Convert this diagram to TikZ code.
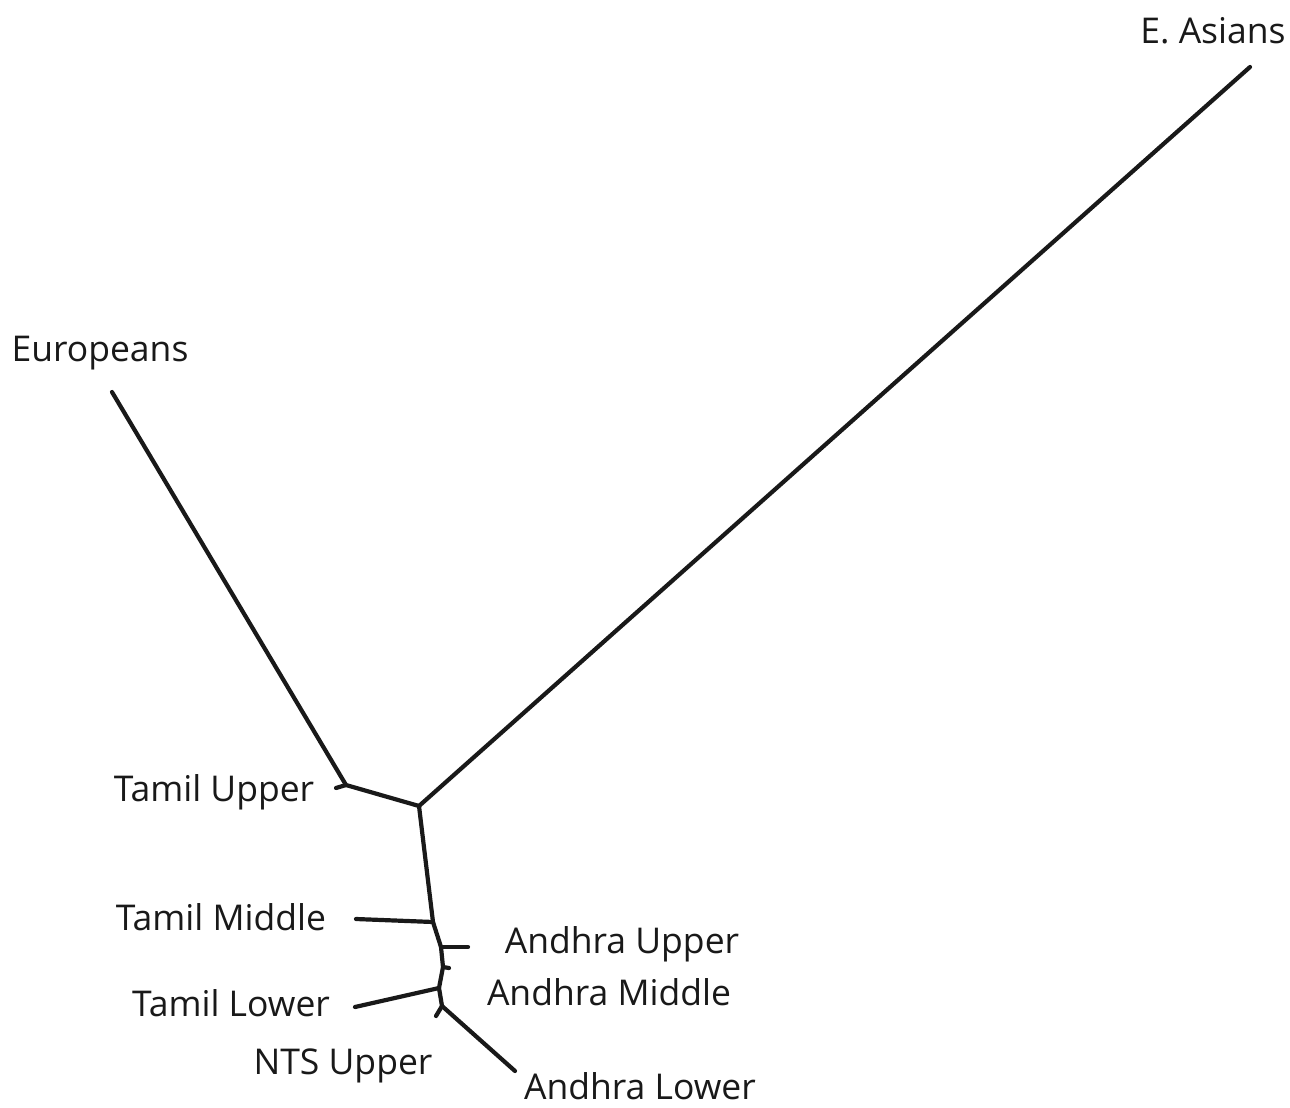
\documentclass[tikz,border=0pt]{standalone}
\usepackage{fontspec}
\setmainfont{Open Sans}
\begin{document}
\begin{tikzpicture}[x=1pt,y=-1pt,
  branch/.style={line width=4.2pt,line cap=round,line join=round,black!90},
  lab/.style={font=\fontsize{35.5}{40}\selectfont,text=black!90,inner sep=0pt}]
\useasboundingbox (0,0) rectangle (1290,1108);
% internal nodes
\coordinate (c) at (419,806);
\coordinate (tu) at (346,785);
\coordinate (tm) at (433,922);
\coordinate (au) at (441,947);
\coordinate (am) at (443,967);
\coordinate (tl) at (439,988);
\coordinate (nt) at (442,1006);
% leaves
\coordinate (eaL) at (1250,67);
\coordinate (euL) at (112,392);
\coordinate (tuL) at (336,788);
\coordinate (tmL) at (356,919);
\coordinate (auL) at (468,947);
\coordinate (amL) at (449,968);
\coordinate (tlL) at (355,1007);
\coordinate (ntL) at (436,1016);
\coordinate (alL) at (515,1071);
% labels
\node[lab] (ea) at (1213,31) {E. Asians};
\node[lab] (eu) at (100,353) {Europeans};
\node[lab] (tut) at (214,792) {Tamil Upper};
\node[lab] (tmt) at (221,917) {Tamil Middle};
\node[lab] (aut) at (622,944) {Andhra Upper};
\node[lab] (amt) at (609,992) {Andhra Middle};
\node[lab] (tlt) at (231,1003) {Tamil Lower};
\node[lab] (ntt) at (343,1066) {NTS Upper};
\node[lab] (alt) at (640,1086) {Andhra Lower};
% branches
\draw[branch] (eaL) -- (c);
\draw[branch] (euL) -- (tu) -- (c);
\draw[branch] (tuL) -- (tu);
\draw[branch] (c) -- (tm) -- (au) -- (am) -- (tl) -- (nt) -- (alL);
\draw[branch] (tmL) -- (tm);
\draw[branch] (au) -- (auL);
\draw[branch] (am) -- (amL);
\draw[branch] (tlL) -- (tl);
\draw[branch] (nt) -- (ntL);
\end{tikzpicture}
\end{document}
